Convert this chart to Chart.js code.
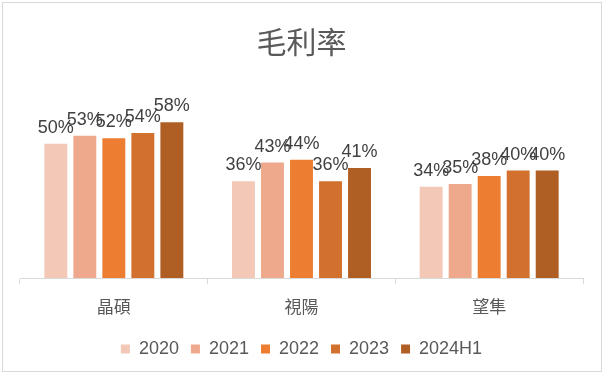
<!DOCTYPE html>
<html>
<head>
<meta charset="utf-8">
<script src="https://cdn.jsdelivr.net/npm/chart.js@4.4.1/dist/chart.umd.min.js"></script>
<style>
  html, body { margin: 0; padding: 0; background: #fff; }
  #wrap { width: 606px; height: 377px; }
</style>
</head>
<body>
<div id="wrap"><canvas id="c" width="606" height="377"></canvas></div>
<script>
// gross margin by company, per year (percent)
const companies = ['晶碩', '視陽', '望隼'];
const years = ['2020', '2021', '2022', '2023', '2024H1'];
const margin2020 = [50, 36, 34];
const margin2021 = [53, 43, 35];
const margin2022 = [52, 44, 38];
const margin2023 = [54, 36, 40];
const margin2024H1 = [58, 41, 40];
const colours = ['#F3C8B7', '#EEA98C', '#ED7D31', '#D2712D', '#B05F24'];

const FONT = "'Liberation Sans', 'Noto Sans CJK TC', Arial, sans-serif";
const TEXT = '#595959';
const LINE = '#D9D9D9';

const series = [margin2020, margin2021, margin2022, margin2023, margin2024H1];

// frame round the whole chart, like the office chart border
const frame = {
  id: 'frame',
  beforeDraw(chart) {
    const { ctx } = chart;
    ctx.save();
    ctx.fillStyle = '#fff';
    ctx.fillRect(0, 0, chart.width, chart.height);
    ctx.strokeStyle = LINE;
    ctx.lineWidth = 1;
    ctx.strokeRect(2.5, 2.5, 599, 369);
    ctx.restore();
  },
};

// value labels above each bar
const barLabels = {
  id: 'barLabels',
  afterDatasetsDraw(chart) {
    const { ctx } = chart;
    ctx.save();
    ctx.font = `18px ${FONT}`;
    ctx.fillStyle = '#404040';
    ctx.textAlign = 'center';
    ctx.textBaseline = 'alphabetic';
    chart.data.datasets.forEach((ds, i) => {
      chart.getDatasetMeta(i).data.forEach((bar, j) => {
        ctx.fillText(`${ds.data[j]}%`, bar.x, bar.y - 11);
      });
    });
    ctx.restore();
  },
};

new Chart(document.getElementById('c'), {
  type: 'bar',
  data: {
    labels: companies,
    datasets: years.map((y, i) => ({
      label: y,
      data: series[i],
      backgroundColor: colours[i],
      borderWidth: 0,
      categoryPercentage: 0.773,
      barPercentage: 0.79,
    })),
  },
  options: {
    responsive: false,
    animation: false,
    layout: { padding: { left: 20, right: 23, top: 0, bottom: 9 } },
    plugins: {
      title: {
        display: true,
        text: '毛利率',
        color: TEXT,
        font: { family: FONT, size: 30, weight: 'normal' },
        padding: { top: 27, bottom: 27 },
      },
      legend: {
        position: 'bottom',
        labels: {
          color: TEXT,
          font: { family: FONT, size: 18 },
          boxWidth: 9,
          boxHeight: 9,
          padding: 12,
        },
      },
      tooltip: { enabled: false },
    },
    scales: {
      x: {
        grid: { display: true, drawOnChartArea: false, drawTicks: true, tickLength: 6, color: LINE },
        border: { display: true, color: LINE },
        ticks: { color: TEXT, font: { family: FONT, size: 17 }, padding: 14 },
        afterFit(scale) { scale.height = 50; },
      },
      y: {
        display: false,
        min: 0,
        max: 70,
      },
    },
  },
  plugins: [frame, barLabels],
});
</script>
</body>
</html>
